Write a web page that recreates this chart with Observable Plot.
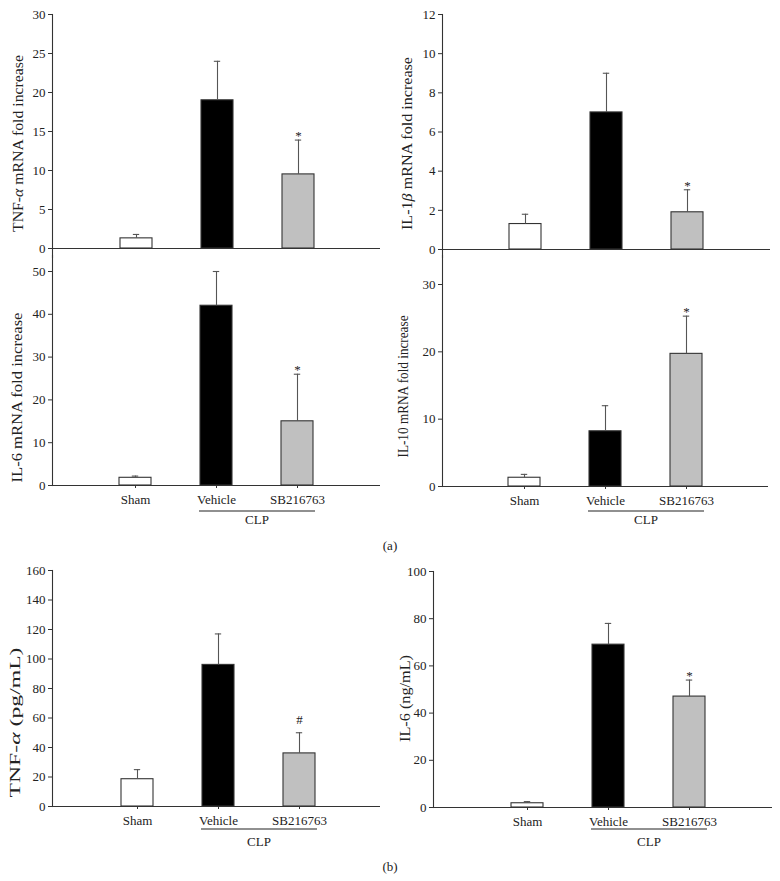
<!DOCTYPE html>
<html><head><meta charset="utf-8">
<script src="https://cdn.jsdelivr.net/npm/d3@7"></script>
<script src="https://cdn.jsdelivr.net/npm/@observablehq/plot@0.6"></script>
<style>
body{margin:0;background:#fff;}
#fig{position:relative;width:780px;height:881px;font-family:"Liberation Serif",serif;color:#222;}
#fig svg{position:absolute;}
.tag{position:absolute;font-size:13px;transform:translateX(-50%);}
</style></head><body><div id="fig"></div>
<script>
// ---- data ----
const groups = ["Sham", "Vehicle", "SB216763"];
const fills = ["#ffffff", "#000000", "#c0c0c0"];

const tnfMrna = [1.3, 19, 9.5];     const tnfMrnaErr = [1.8, 24, 13.9];   const tnfMrnaSig = ["", "", "*"];
const il1bMrna = [1.3, 7, 1.9];     const il1bMrnaErr = [1.8, 9, 3.05];   const il1bMrnaSig = ["", "", "*"];
const il6Mrna = [1.8, 42, 15];      const il6MrnaErr = [2.2, 50, 26];     const il6MrnaSig = ["", "", "*"];
const il10Mrna = [1.3, 8.2, 19.7];  const il10MrnaErr = [1.8, 12, 25.3];  const il10MrnaSig = ["", "", "*"];
const tnfProt = [18.5, 96, 36];     const tnfProtErr = [25, 117, 50];     const tnfProtSig = ["", "", "#"];
const il6Prot = [1.8, 69, 47];      const il6ProtErr = [2.5, 78, 54];     const il6ProtSig = ["", "", "*"];

const yTicks1 = [0, 5, 10, 15, 20, 25, 30];
const yTicks2 = [0, 2, 4, 6, 8, 10, 12];
const yTicks3 = [0, 10, 20, 30, 40, 50];
const yTicks4 = [0, 10, 20, 30];
const yTicks5 = [0, 20, 40, 60, 80, 100, 120, 140, 160];
const yTicks6 = [0, 20, 40, 60, 80, 100];

const labels = ["TNF-α mRNA fold increase", "IL-1β mRNA fold increase", "IL-6 mRNA fold increase",
  "IL-10 mRNA fold increase", "TNF-α (pg/mL)", "IL-6 (ng/mL)"];
const groupLabel = "CLP";
const panelTags = ["(a)", "(b)"];

// ---- layout (pixels) ----
const panels = [
  {vals: tnfMrna, errs: tnfMrnaErr, sig: tnfMrnaSig, ticks: yTicks1, label: labels[0],
   left: 0, top: 0, height: 262, ml: 52, mr: 10, fTop: 14, fBot: 257, y0: 248, yTopPx: 14,
   c1: 135, step: 81.7, lblDx: -34, lblY: 143, lblLen: 177, xlab: false},
  {vals: il1bMrna, errs: il1bMrnaErr, sig: il1bMrnaSig, ticks: yTicks2, label: labels[1],
   left: 390, top: 0, height: 262, ml: 52, mr: 10, fTop: 14, fBot: 257, y0: 249, yTopPx: 14,
   c1: 134.5, step: 81.5, lblDx: -35, lblY: 143, lblLen: 173, xlab: false},
  {vals: il6Mrna, errs: il6MrnaErr, sig: il6MrnaSig, ticks: yTicks3, label: labels[2],
   left: 0, top: 250, height: 300, ml: 52, mr: 10, fTop: 5, fBot: 235, y0: 235, yTopPx: 21,
   c1: 135, step: 81.5, lblDx: -35, lblY: 147, lblLen: 170, xlab: true, clpLine: 26, clpText: 39},
  {vals: il10Mrna, errs: il10MrnaErr, sig: il10MrnaSig, ticks: yTicks4, label: labels[3],
   left: 390, top: 250, height: 300, ml: 52, mr: 12, fTop: 5, fBot: 236, y0: 236, yTopPx: 34,
   c1: 134, step: 81.5, lblDx: -39, lblY: 136, lblLen: 142, xlab: true, clpLine: 25, clpText: 38},
  {vals: tnfProt, errs: tnfProtErr, sig: tnfProtSig, ticks: yTicks5, label: labels[4],
   left: 0, top: 560, height: 300, ml: 52, mr: 10, fTop: 10, fBot: 246, y0: 246, yTopPx: 10,
   c1: 136.5, step: 81.7, lblDx: -37, lblY: 162, lblLen: 150, xlab: true, clpLine: 23, clpText: 40},
  {vals: il6Prot, errs: il6ProtErr, sig: il6ProtSig, ticks: yTicks6, label: labels[5],
   left: 390, top: 560, height: 300, ml: 43, mr: 8, fTop: 11, fBot: 247, y0: 247, yTopPx: 11,
   c1: 137, step: 81.5, lblDx: -28, lblY: 138, lblLen: 87, xlab: true, clpLine: 22, clpText: 39}
];
const sigDy = {"*": -4, "#": -13};

const fig = document.getElementById("fig");
const W = 390;

for (const p of panels) {
  const data = groups.map((g, i) => ({group: g, value: p.vals[i], err: p.errs[i], sig: p.sig[i], fill: fills[i]}));
  const sigData = data.filter(d => d.sig);
  const x0 = p.c1 - 0.8 * p.step;
  const x1 = x0 + 3.6 * p.step;
  const bw = 0.4 * p.step;
  const capInset = (bw - 7) / 2;
  const frameMid = (p.fTop + p.fBot) / 2;
  const marks = [
    Plot.barY(data, {x: "group", y: "value", fill: "fill", stroke: "#333", strokeWidth: 1.1}),
    Plot.ruleX(data, {x: "group", y1: "value", y2: "err", stroke: "#555", strokeWidth: 1.1}),
    Plot.tickY(data, {x: "group", y: "err", stroke: "#555", strokeWidth: 1.1, insetLeft: capInset, insetRight: capInset}),
    Plot.text(sigData, {x: "group", y: "err", text: "sig", fontSize: 13, fill: "#222",
      dy: sigData.length ? sigDy[sigData[0].sig] : -4}),
    Plot.ruleY([0], {stroke: "#333", strokeWidth: 1.1}),
    Plot.frame({anchor: "left", stroke: "#333", strokeWidth: 1.1}),
    Plot.axisY({ticks: p.ticks, tickSize: 4, tickPadding: 3, fontSize: 13, label: null, stroke: "#333", fill: "#222"}),
    Plot.text([p.label], {frameAnchor: "left", textAnchor: "middle", rotate: -90, dx: p.lblDx, dy: p.lblY - frameMid,
      fontSize: 14.5, fill: "#222"})
  ];
  if (p.xlab) marks.push(Plot.axisX({tickSize: 3, tickPadding: 6, fontSize: 13, label: null, stroke: "#333", fill: "#222"}));
  const plot = Plot.plot({
    width: W, height: p.height,
    marginLeft: p.ml, marginRight: p.mr, marginTop: p.fTop, marginBottom: p.height - p.fBot,
    style: {fontFamily: "'Liberation Serif', serif", background: "transparent", overflow: "visible"},
    x: {type: "band", domain: groups, range: [x0, x1], padding: 0.6, axis: null, label: null},
    y: {domain: [0, p.ticks[p.ticks.length - 1]], range: [p.y0, p.yTopPx], axis: null, label: null},
    color: {type: "identity"},
    marks
  });
  plot.style.left = p.left + "px";
  plot.style.top = p.top + "px";
  const svg = d3.select(plot);
  // y label: italic greek + stretched length
  svg.selectAll("text").filter(function () { return this.textContent === p.label; }).each(function () {
    const t = d3.select(this);
    const s = t.text();
    const m = s.match(/^(.*?)([αβ])(.*)$/);
    if (m) {
      t.text(null);
      t.append("tspan").text(m[1]);
      t.append("tspan").attr("font-style", "italic").text(m[2]);
      t.append("tspan").text(m[3]);
    }
    t.attr("textLength", p.lblLen).attr("lengthAdjust", "spacingAndGlyphs");
  });
  if (p.xlab) {
    const sx = plot.scale("x");
    const a = sx.apply("Vehicle") - 1;
    const b = sx.apply("SB216763") + sx.bandwidth + 2;
    svg.append("line").attr("x1", a).attr("x2", b).attr("y1", p.y0 + p.clpLine).attr("y2", p.y0 + p.clpLine)
      .attr("stroke", "#222").attr("stroke-width", 1.1);
    svg.append("text").attr("x", (a + b) / 2).attr("y", p.y0 + p.clpText).attr("text-anchor", "middle")
      .attr("font-size", 13).attr("fill", "#222").attr("font-family", "'Liberation Serif', serif").text(groupLabel);
  }
  fig.appendChild(plot);
}

const tagPos = [[390, 538], [390, 859]];
panelTags.forEach((t, i) => {
  const d = document.createElement("div");
  d.className = "tag";
  d.textContent = t;
  d.style.left = tagPos[i][0] + "px";
  d.style.top = tagPos[i][1] + "px";
  fig.appendChild(d);
});
</script></body></html>
